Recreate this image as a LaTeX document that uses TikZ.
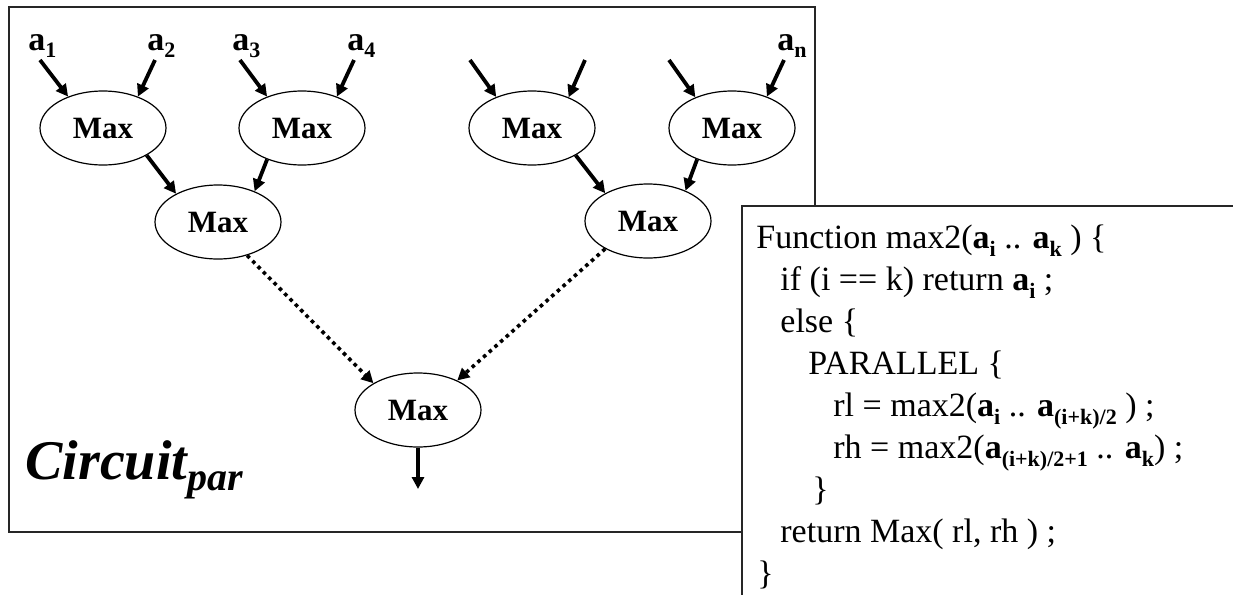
\documentclass[tikz,border=0pt]{standalone}
\usepackage{fontspec}
\setmainfont{Liberation Serif}
\usetikzlibrary{shapes.geometric,arrows.meta}
% bold subscripts for the input labels and for the code listing
\newcommand{\lsub}[1]{\raisebox{-3.5pt}{\fontsize{11}{11}\selectfont\bfseries #1}}
\newcommand{\csub}[1]{\raisebox{-4pt}{\fontsize{11}{12}\selectfont\bfseries #1}}
\begin{document}
\begin{tikzpicture}[x=0.5pt,y=-0.5pt,
  maxnode/.style={ellipse, draw, line width=0.6pt, minimum width=63pt, minimum height=37pt,
    inner sep=0pt, font=\fontsize{15.5}{16}\selectfont\bfseries},
  wire/.style={line width=1.9pt, -{Triangle[length=6pt,width=6pt]}},
  dotwire/.style={wire, line width=1.8pt, dash pattern=on 1.8pt off 2pt},
  lbl/.style={anchor=base west, inner sep=0pt, font=\fontsize{17}{17}\selectfont\bfseries},
  code/.style={anchor=base west, inner sep=0pt, font=\fontsize{17}{17}\selectfont},
  frame/.style={draw=black!85, line width=0.6pt}]
\useasboundingbox (0,0) rectangle (1233,595);

% circuit frame
\draw[frame] (9,7) rectangle (815,532);

% first level
\node[maxnode] (m1) at (103,128) {Max};
\node[maxnode] (m2) at (302,128) {Max};
\node[maxnode] (m3) at (532,128) {Max};
\node[maxnode] (m4) at (732,128) {Max};
% second level
\node[maxnode] (m12) at (218,222) {Max};
\node[maxnode] (m34) at (648,221) {Max};
% root
\node[maxnode] (top) at (418,410) {Max};

% input labels
\node[lbl] (l1) at (28,50) {a\lsub{1}};
\node[lbl] (l2) at (147,50) {a\lsub{2}};
\node[lbl] (l3) at (232,50) {a\lsub{3}};
\node[lbl] (l4) at (347,50) {a\lsub{4}};
\node[lbl] (ln) at (777,50) {a\lsub{n}};

% input wires
\coordinate (s1) at (40,60);
\coordinate (s2) at (155,60);
\coordinate (s3) at (240,60);
\coordinate (s4) at (354,60);
\coordinate (s5) at (470,60);
\coordinate (s6) at (585,60);
\coordinate (s7) at (669,60);
\coordinate (s8) at (784,60);
\draw[wire] (s1) -- (m1.138);
\draw[wire] (s2) -- (m1.42);
\draw[wire] (s3) -- (m2.138);
\draw[wire] (s4) -- (m2.42);
\draw[wire] (s5) -- (m3.139);
\draw[wire] (s6) -- (m3.40);
\draw[wire] (s7) -- (m4.140);
\draw[wire] (s8) -- (m4.42);

% first to second level
\draw[wire] (m1.-32) -- (m12.146);
\draw[wire] (m2.222) -- (m12.40);
\draw[wire] (m3.-32) -- (m34.147);
\draw[wire] (m4.222) -- (m34.39);

% second level to root (elided levels)
\draw[dotwire] (m12.-49) -- (top.149);
\draw[dotwire] (m34.213) -- (top.37);

% output
\coordinate (out) at (418,489);
\draw[wire] (top.south) -- (out);

% title
\node[anchor=base west, inner sep=0pt, font=\fontsize{28}{28}\selectfont\bfseries\itshape] (title)
  at (25,479) {Circuit\raisebox{-5.5pt}{\fontsize{20}{20}\selectfont par}};

% code listing box
\fill[white] (742,206) rectangle (1233,595);
\draw[frame] (1233,206) -- (742,206) -- (742,595);

\node[code] (c1) at (756,248) {Function max2(\textbf{a}\csub{i} .. \textbf{a}\csub{k} ) \{};
\node[code] (c2) at (780,290) {if (i == k) return \textbf{a}\csub{i} ;};
\node[code] (c3) at (780,332) {else \{};
\node[code] (c4) at (808,374) {PARALLEL \{};
\node[code] (c5) at (833,416) {rl = max2(\textbf{a}\csub{i} .. \textbf{a}\csub{(i+k)/2} ) ;};
\node[code] (c6) at (833,458) {rh = max2(\textbf{a}\csub{(i+k)/2+1} .. \textbf{a}\csub{k}) ;};
\node[code] (c7) at (812,500) {\}};
\node[code] (c8) at (780,542) {return Max( rl, rh ) ;};
\node[code] (c9) at (757,584) {\}};
\end{tikzpicture}
\end{document}
